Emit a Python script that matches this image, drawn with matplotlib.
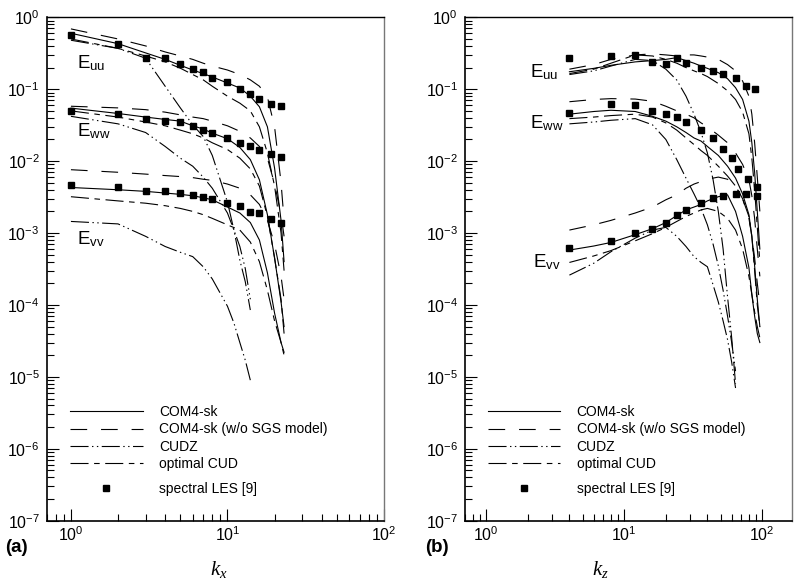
import matplotlib
matplotlib.use("Agg")
import matplotlib.pyplot as plt
from matplotlib.lines import Line2D

plt.rcParams['font.family'] = ['Liberation Sans', 'DejaVu Sans']
plt.rcParams['mathtext.fontset'] = 'custom'
plt.rcParams['mathtext.rm'] = 'Liberation Sans'
plt.rcParams['mathtext.it'] = 'Liberation Serif:italic'
plt.rcParams['mathtext.bf'] = 'Liberation Sans:bold'
plt.rcParams['lines.scale_dashes'] = False

# ---------------- panel (a): k_x ----------------
kx_les = [1, 2, 3, 4, 5, 6, 7, 8, 10, 12, 14, 16, 19, 22]
uu_les_a = [0.568, 0.422, 0.27, 0.27, 0.225, 0.191, 0.176, 0.144, 0.126, 0.1, 0.086, 0.0727, 0.062, 0.058]
ww_les_a = [0.05, 0.0454, 0.0387, 0.0363, 0.0348, 0.0304, 0.0272, 0.0245, 0.0211, 0.0178, 0.0163, 0.01435, 0.0125, 0.01148]
vv_les_a = [0.00469, 0.0043, 0.00387, 0.00381, 0.0036, 0.0034, 0.00322, 0.003, 0.00261, 0.00234, 0.00196, 0.0019, 0.00156, 0.00138]

kx = [1, 2, 3, 4, 5, 6, 7, 8, 10, 12, 14, 16, 18, 20, 22, 23]
uu_com_a = [0.60, 0.43, 0.32, 0.26, 0.215, 0.185, 0.165, 0.148, 0.122, 0.104, 0.08, 0.057, 0.03, 0.008, 0.0015, 0.0004]
uu_nosgs_a = [0.69, 0.5, 0.4, 0.33, 0.29, 0.26, 0.23, 0.21, 0.185, 0.16, 0.135, 0.11, 0.078, 0.03, 0.005, 0.0015]
uu_opt_a = [0.5, 0.37, 0.29, 0.24, 0.196, 0.16, 0.135, 0.11, 0.08, 0.064, 0.05, 0.03, 0.013, 0.0045, 0.001, 0.0003]
ww_com_a = [0.0546, 0.046, 0.041, 0.038, 0.036, 0.031, 0.028, 0.0245, 0.0205, 0.0155, 0.0105, 0.0055, 0.0018, 0.00045, 0.00011, 0.00005]
ww_nosgs_a = [0.058, 0.055, 0.052, 0.048, 0.044, 0.041, 0.039, 0.036, 0.031, 0.026, 0.021, 0.016, 0.011, 0.0048, 0.0018, 0.0009]
ww_opt_a = [0.05, 0.041, 0.035, 0.031, 0.027, 0.024, 0.021, 0.018, 0.0145, 0.011, 0.0078, 0.0045, 0.0017, 0.00045, 0.00012, 0.00004]
vv_com_a = [0.0043, 0.004, 0.0038, 0.0036, 0.00345, 0.0033, 0.0031, 0.0029, 0.0023, 0.0019, 0.0014, 0.0008, 0.00028, 0.000077, 0.00003, 0.000022]
vv_nosgs_a = [0.0076, 0.007, 0.0066, 0.0063, 0.0061, 0.0059, 0.0056, 0.0054, 0.0048, 0.0042, 0.0034, 0.0025, 0.0015, 0.0007, 0.00025, 0.00012]
vv_opt_a = [0.0032, 0.0028, 0.0026, 0.0024, 0.0022, 0.002, 0.0018, 0.0016, 0.0013, 0.0011, 0.00075, 0.0004, 0.00016, 0.00006, 0.00003, 0.00002]

kxc = [1, 2, 3, 4, 5, 6, 7, 8, 10, 11, 12, 13, 14]
uu_cudz_a = [0.48, 0.37, 0.27, 0.11, 0.055, 0.032, 0.022, 0.012, 0.0027, 0.0011, 0.00042, 0.00021, 0.000085]
ww_cudz_a = [0.042, 0.033, 0.025, 0.016, 0.011, 0.0085, 0.006, 0.0042, 0.0019, 0.0011, 0.00065, 0.00032, 0.00012]
vv_cudz_a = [0.00145, 0.00134, 0.0009, 0.00065, 0.00054, 0.00047, 0.00034, 0.00023, 0.000096, 0.000056, 0.00003, 0.000017, 0.000009]

# ---------------- panel (b): k_z ----------------
kz_les_uu = [4, 8, 12, 16, 20, 24, 28, 36, 44, 52, 64, 76, 88]
uu_les_b = [0.27, 0.29, 0.30, 0.237, 0.224, 0.27, 0.235, 0.195, 0.18, 0.163, 0.142, 0.111, 0.1]
kz_les_ww = [4, 8, 12, 16, 20, 24, 28, 36, 44, 52, 60, 67, 79, 91]
ww_les_b = [0.0464, 0.0619, 0.06, 0.05, 0.045, 0.0417, 0.035, 0.0272, 0.0213, 0.0148, 0.011, 0.0078, 0.0056, 0.0043]
kz_les_vv = [4, 8, 12, 16, 20, 24, 28, 36, 44, 52, 64, 76, 91]
vv_les_b = [0.00062, 0.00077, 0.001, 0.00114, 0.0014, 0.0018, 0.0021, 0.0026, 0.0031, 0.0033, 0.0035, 0.0035, 0.0033]

kz = [4, 6, 8, 12, 16, 20, 24, 28, 32, 36, 40, 48, 56, 64, 72, 80, 84, 88, 92, 96]
uu_com_b = [0.175, 0.195, 0.215, 0.24, 0.25, 0.26, 0.275, 0.25, 0.23, 0.21, 0.195, 0.17, 0.14, 0.105, 0.072, 0.036, 0.018, 0.007, 0.002, 0.0006]
uu_nosgs_b = [0.19, 0.22, 0.26, 0.3, 0.31, 0.3, 0.29, 0.3, 0.3, 0.29, 0.28, 0.26, 0.22, 0.18, 0.13, 0.08, 0.045, 0.018, 0.006, 0.002]
uu_opt_b = [0.165, 0.19, 0.23, 0.3, 0.29, 0.26, 0.23, 0.2, 0.18, 0.165, 0.15, 0.12, 0.095, 0.072, 0.048, 0.024, 0.011, 0.004, 0.0012, 0.0004]
ww_com_b = [0.045, 0.049, 0.051, 0.049, 0.042, 0.036, 0.030, 0.025, 0.021, 0.019, 0.016, 0.012, 0.0085, 0.0058, 0.0035, 0.0018, 0.0009, 0.00035, 0.00012, 0.00005]
ww_nosgs_b = [0.067, 0.072, 0.074, 0.073, 0.068, 0.058, 0.05, 0.045, 0.04, 0.034, 0.03, 0.023, 0.018, 0.013, 0.009, 0.0055, 0.0033, 0.0016, 0.0006, 0.00025]
ww_opt_b = [0.039, 0.041, 0.043, 0.045, 0.041, 0.034, 0.027, 0.021, 0.017, 0.014, 0.012, 0.0085, 0.0062, 0.0045, 0.003, 0.0017, 0.0009, 0.0003, 0.0001, 0.00005]
vv_com_b = [0.00058, 0.00066, 0.00074, 0.00095, 0.00115, 0.0014, 0.00175, 0.0021, 0.0023, 0.0025, 0.0028, 0.0032, 0.0034, 0.002, 0.0009, 0.00033, 0.00014, 0.00007, 0.00004, 0.00003]
vv_nosgs_b = [0.0011, 0.0013, 0.0015, 0.0019, 0.0023, 0.0029, 0.0034, 0.0042, 0.0048, 0.0052, 0.0056, 0.006, 0.0056, 0.0045, 0.003, 0.0016, 0.0009, 0.00045, 0.0002, 0.0001]
vv_opt_b = [0.00039, 0.00048, 0.00057, 0.00078, 0.00098, 0.0012, 0.00145, 0.0017, 0.0019, 0.0021, 0.0022, 0.002, 0.0016, 0.0011, 0.0006, 0.00025, 0.00014, 0.00008, 0.00005, 0.000035]

kzc = [4, 6, 8, 12, 16, 20, 24, 28, 32, 36, 40, 44, 48, 52, 56, 60, 64]
uu_cudz_b = [0.16, 0.18, 0.21, 0.26, 0.25, 0.19, 0.134, 0.08, 0.045, 0.025, 0.013, 0.0055, 0.002, 0.0006, 0.00013, 0.000035, 0.000008]
ww_cudz_b = [0.033, 0.035, 0.037, 0.039, 0.032, 0.02, 0.0105, 0.0058, 0.0035, 0.0022, 0.0013, 0.0007, 0.00035, 0.00016, 0.00007, 0.00003, 0.000012]
vv_cudz_b = [0.00026, 0.00038, 0.00055, 0.00085, 0.0011, 0.0012, 0.0009, 0.00065, 0.00047, 0.00039, 0.00034, 0.00019, 0.00011, 0.00006, 0.000033, 0.000016, 0.000007]

labels = ['COM4-sk', 'COM4-sk (w/o SGS model)', 'CUDZ', 'optimal CUD', 'spectral LES [9]']

LW = 0.8
styles = {
    'com': dict(color='black', lw=LW, linestyle='-'),
    'nosgs': dict(color='black', lw=LW, dashes=(12, 10)),
    'cudz': dict(color='black', lw=LW, dashes=(13, 2.5, 1, 2.5, 1, 2.5)),
    'opt': dict(color='black', lw=LW, dashes=(13, 4, 4, 4)),
}
mstyle = dict(linestyle='none', marker='s', color='black', markersize=4.3)

fig = plt.figure(figsize=(7.94, 5.81), dpi=100)
axA = fig.add_axes([0.0588, 0.1038, 0.4248, 0.8664])
axB = fig.add_axes([0.5856, 0.1038, 0.4118, 0.8664])


def draw(ax, k, kc, com, nosgs, opt, cudz):
    ax.plot(k, com, **styles['com'])
    ax.plot(k, nosgs, **styles['nosgs'])
    ax.plot(kc, cudz, **styles['cudz'])
    ax.plot(k, opt, **styles['opt'])


draw(axA, kx, kxc, uu_com_a, uu_nosgs_a, uu_opt_a, uu_cudz_a)
draw(axA, kx, kxc, ww_com_a, ww_nosgs_a, ww_opt_a, ww_cudz_a)
draw(axA, kx, kxc, vv_com_a, vv_nosgs_a, vv_opt_a, vv_cudz_a)
for v in (uu_les_a, ww_les_a, vv_les_a):
    axA.plot(kx_les, v, **mstyle)

draw(axB, kz, kzc, uu_com_b, uu_nosgs_b, uu_opt_b, uu_cudz_b)
draw(axB, kz, kzc, ww_com_b, ww_nosgs_b, ww_opt_b, ww_cudz_b)
draw(axB, kz, kzc, vv_com_b, vv_nosgs_b, vv_opt_b, vv_cudz_b)
axB.plot(kz_les_uu, uu_les_b, **mstyle)
axB.plot(kz_les_ww, ww_les_b, **mstyle)
axB.plot(kz_les_vv, vv_les_b, **mstyle)

axA.set_xlim(0.7, 100)
axB.set_xlim(0.7, 164)
for ax in (axA, axB):
    ax.set_xscale('log')
    ax.set_yscale('log')
    ax.set_ylim(1e-7, 1)
    ax.tick_params(which='both', direction='in', top=False, right=False,
                   labelsize=11.5, width=0.8, pad=3)
    ax.tick_params(which='major', length=8.5)
    ax.tick_params(which='minor', length=5)
    ax.tick_params(axis='y', pad=5)
    ax.spines['left'].set_linewidth(1.2)
    ax.spines['bottom'].set_linewidth(1.2)
    ax.spines['top'].set_linewidth(1.0)
    ax.spines['right'].set_linewidth(1.0)
    ax.spines['right'].set_color('#777777')

    handles = [Line2D([], [], **styles['com']), Line2D([], [], **styles['nosgs']),
               Line2D([], [], **styles['cudz']), Line2D([], [], **styles['opt'])]
    leg1 = ax.legend(handles, labels[:4], loc='upper left', frameon=False,
                     fontsize=10, handlelength=5.2, handletextpad=1.2,
                     labelspacing=0.25, borderpad=0, borderaxespad=0,
                     bbox_to_anchor=(0.07, 0.230))
    ax.add_artist(leg1)
    ax.legend([Line2D([], [], **mstyle)], labels[4:], loc='upper left', frameon=False,
              fontsize=10, handlelength=5.2, handletextpad=1.2,
              borderpad=0, borderaxespad=0, bbox_to_anchor=(0.07, 0.077))

# component labels
tk = dict(fontsize=13.5, va='baseline', ha='left')
axA.text(1.09, 0.197, r'E$_{\rm uu}$', **tk)
axA.text(1.09, 0.0218, r'E$_{\rm ww}$', **tk)
axA.text(1.09, 6.9e-4, r'E$_{\rm vv}$', **tk)
axB.text(2.08, 0.148, r'E$_{\rm uu}$', **tk)
axB.text(2.08, 0.029, r'E$_{\rm ww}$', **tk)
axB.text(2.18, 3.3e-4, r'E$_{\rm vv}$', **tk)

fig.text(5 / 794, 1 - 552 / 581, '(a)', fontsize=13.5, fontweight='bold')
fig.text(425 / 794, 1 - 552 / 581, '(b)', fontsize=13.5, fontweight='bold')
fig.text(219 / 794, 1 - 575 / 581, r'$k_x$', fontsize=15, ha='center')
fig.text(600 / 794, 1 - 575 / 581, r'$k_z$', fontsize=15, ha='center')

fig.savefig('out.png', dpi=100)
